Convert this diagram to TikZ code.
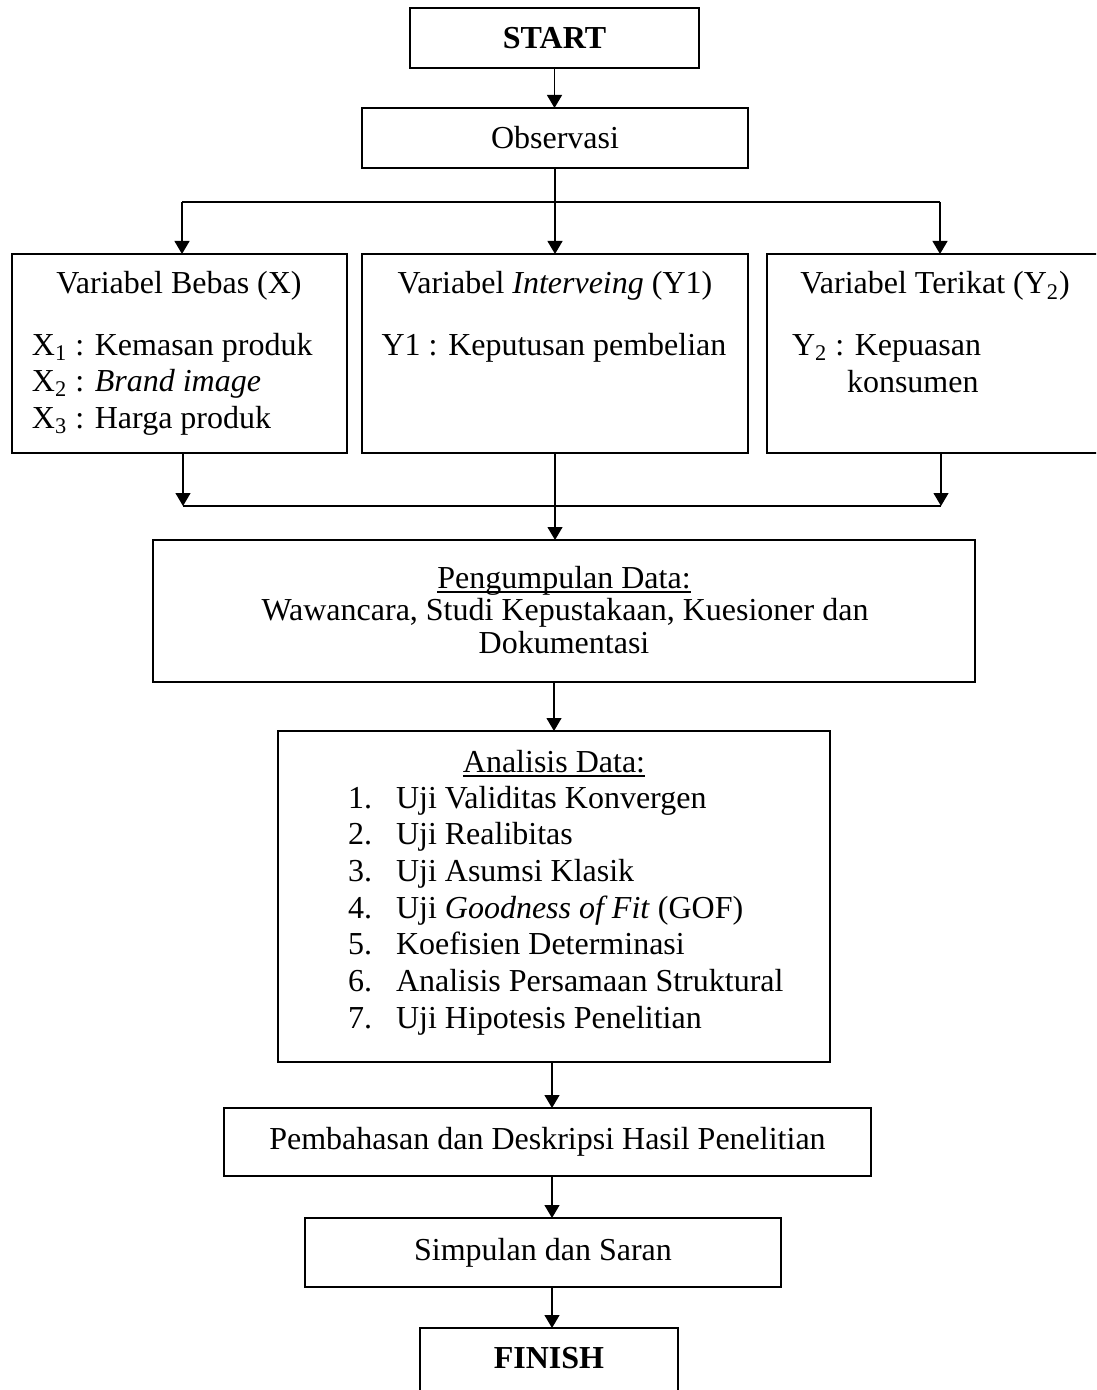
\documentclass[tikz,border=0pt]{standalone}
\usepackage{fontspec}
\setmainfont{Liberation Serif}
\usetikzlibrary{arrows.meta,calc}
\newcommand\myul[1]{\setbox0=\hbox{#1}\rlap{\rule[-2.4pt]{\wd0}{0.7pt}}\box0}
\begin{document}
\begin{tikzpicture}[x=0.5pt,y=-0.5pt]
\tikzset{
 fbox/.style={draw=black,line width=1.3pt,rectangle,inner sep=0pt,outer sep=0pt},
 txt/.style={font=\fontsize{16pt}{19pt}\selectfont,inner sep=0pt,outer sep=0pt},
 btxt/.style={font=\fontsize{16pt}{19pt}\selectfont\bfseries,inner sep=0pt,outer sep=0pt},
 conn/.style={line width=0.6pt,draw=black},
 arr/.style={conn,-{Triangle[length=6.5pt,width=7.5pt]}},
}
\useasboundingbox (0,0) rectangle (1096,1390);
\clip (0,0) rectangle (1096,1390);

% boxes
\node[fbox,btxt,minimum width=144.5pt,minimum height=30pt] (start) at (554.5,38) {START};
\node[fbox,txt,minimum width=193pt,minimum height=30pt] (obs) at (555,138) {Observasi};
\node[fbox,minimum width=167.5pt,minimum height=99.5pt] (bx) at (179.5,353.5) {};
\node[fbox,minimum width=193pt,minimum height=99.5pt] (by1) at (555,353.5) {};
\node[fbox,minimum width=166.5pt,minimum height=99.5pt] (by2) at (933.5,353.5) {};
\node[fbox,minimum width=411pt,minimum height=71pt] (peng) at (564,611) {};
\node[fbox,minimum width=276pt,minimum height=165.5pt] (ana) at (554,896.5) {};
\node[fbox,txt,minimum width=323.5pt,minimum height=34pt] (pem) at (547.5,1142) {Pembahasan dan Deskripsi Hasil Penelitian};
\node[fbox,txt,minimum width=238pt,minimum height=34.5pt] (sim) at (543,1252.5) {Simpulan dan Saran};
\node[fbox,minimum width=129pt,minimum height=36pt] (fin) at (549,1364) {};
\node[btxt] (fint) at (549,1358) {FINISH};

% texts in variable boxes
\node[txt,anchor=base] (bxt) at (179,294) {Variabel Bebas (X)};
\node[txt,anchor=base west] (bx1) at (32,355) {X\textsubscript{1} : Kemasan produk};
\node[txt,anchor=base west] (bx2) at (32,391) {X\textsubscript{2} : \textit{Brand image}};
\node[txt,anchor=base west] (bx3) at (32,428) {X\textsubscript{3} : Harga produk};
\node[txt,anchor=base] (by1t) at (555,294) {Variabel \textit{Interveing} (Y1)};
\node[txt,anchor=base] (by1a) at (554,355) {Y1 : Keputusan pembelian};
\node[txt,anchor=base] (by2t) at (935,294) {Variabel Terikat (Y\textsubscript{2})};
\node[txt,anchor=base west] (by2a) at (792,355) {Y\textsubscript{2} : Kepuasan};
\node[txt,anchor=base west] (by2b) at (847,392) {konsumen};

% pengumpulan data
\node[txt,anchor=base] (pg1) at (564,588) {\myul{Pengumpulan Data:}};
\node[txt,anchor=base] (pg2) at (565,620) {Wawancara, Studi Kepustakaan, Kuesioner dan};
\node[txt,anchor=base] (pg3) at (564,653) {Dokumentasi};

% analisis data
\node[txt,anchor=base] (atitle) at (554,772) {\myul{Analisis Data:}};
\foreach \i/\t in {1/{Uji Validitas Konvergen},2/{Uji Realibitas},3/{Uji Asumsi Klasik},4/{Uji \textit{Goodness of Fit} (GOF)},5/{Koefisien Determinasi},6/{Analisis Persamaan Struktural},7/{Uji Hipotesis Penelitian}}{
  \node[txt,anchor=base west] (anum\i) at (348,{808+36.7*(\i-1)}) {\i.};
  \node[txt,anchor=base west] (atxt\i) at (396,{808+36.7*(\i-1)}) {\t};
}

% connectors
\coordinate (hl) at (182,202);
\coordinate (hr) at (940,202);
\coordinate (ll) at (183,506);
\coordinate (lr) at (941,506);
\coordinate (lowx) at (552,0);

\draw[arr] (start.south) -- (start.south |- obs.north);
\draw[conn] (hl) -- (hr);
\draw[arr] (obs.south) -- (by1.north);
\draw[arr] (hl) -- (hl |- bx.north);
\draw[arr] (hr) -- (hr |- by2.north);
\draw[arr] (ll |- bx.south) -- (ll);
\draw[arr] (lr |- by2.south) -- (lr);
\draw[conn] (ll) -- (lr);
\draw[arr] (by1.south) -- (by1.south |- peng.north);
\draw[arr] (ana.north |- peng.south) -- (ana.north);
\draw[arr] (lowx |- ana.south) -- (lowx |- pem.north);
\draw[arr] (lowx |- pem.south) -- (lowx |- sim.north);
\draw[arr] (lowx |- sim.south) -- (lowx |- fin.north);
\end{tikzpicture}
\end{document}
